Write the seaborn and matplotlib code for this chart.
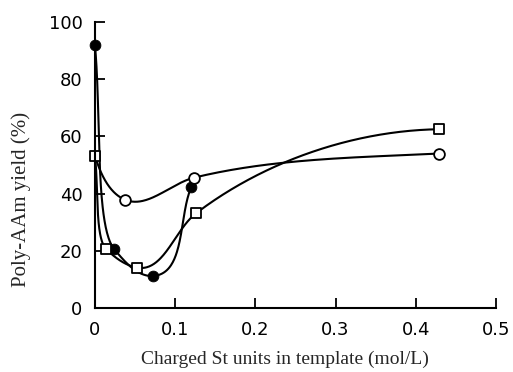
import numpy as np
import pandas as pd
import seaborn as sns
import matplotlib.pyplot as plt

sns.set_style('ticks')
plt.rcParams['font.family'] = ['DejaVu Sans']

# values
filled_x = [0.0, 0.024, 0.0725, 0.120]
filled_y = [92.0, 20.6, 11.2, 42.2]

open_x = [0.0, 0.038, 0.124, 0.429]
open_y = [53.2, 37.8, 45.6, 54.0]
open_marker_x = [0.038, 0.124, 0.429]
open_marker_y = [37.8, 45.6, 54.0]

square_x = [0.0, 0.014, 0.053, 0.126, 0.429]
square_y = [53.2, 20.6, 14.1, 33.1, 62.5]

xticks = [0, 0.1, 0.2, 0.3, 0.4, 0.5]
xticklabels = ['0', '0.1', '0.2', '0.3', '0.4', '0.5']
yticks = [0, 20, 40, 60, 80, 100]


def Smooth(xs, ys, start_down=0.0, end_flat=0.0, power=0.5, n=80):
    # hand-drawn style curve: hermite pieces through the points (screen units)
    sx, sy = 796.0, 2.86
    pts = np.column_stack([np.array(xs) * sx, np.array(ys) * sy])
    chords = np.diff(pts, axis=0)
    lens = np.linalg.norm(chords, axis=1)
    units = chords / lens[:, None]
    v = units[0] + start_down * np.array([0.0, -1.0])
    tang = [v / np.linalg.norm(v)]
    for i in range(1, len(pts) - 1):
        v = units[i - 1] * lens[i] ** power + units[i] * lens[i - 1] ** power
        tang.append(v / np.linalg.norm(v))
    v = units[-1] + end_flat * np.array([1.0, 0.0])
    tang.append(v / np.linalg.norm(v))
    s = np.linspace(0, 1, n)[:, None]
    h00 = 2 * s**3 - 3 * s**2 + 1
    h10 = s**3 - 2 * s**2 + s
    h01 = -2 * s**3 + 3 * s**2
    h11 = s**3 - s**2
    out = []
    for i in range(len(pts) - 1):
        dx = chords[i, 0]
        m0 = tang[i] * lens[i]
        m1 = tang[i + 1] * lens[i]
        if m0[0] > 3 * dx:
            m0 = m0 * 3 * dx / m0[0]
        if m1[0] > 3 * dx:
            m1 = m1 * 3 * dx / m1[0]
        out.append(h00 * pts[i] + h10 * m0 + h01 * pts[i + 1] + h11 * m1)
    out = np.vstack(out)
    return pd.DataFrame({'x': out[:, 0] / sx, 'y': out[:, 1] / sy})


fig = plt.figure(figsize=(5.13, 3.72), dpi=100)
ax = fig.add_axes([0.185, 0.172, 0.782, 0.769])

curves = [
    Smooth(filled_x, filled_y),
    Smooth(open_x, open_y, start_down=1.0, end_flat=1.0),
    Smooth(square_x, square_y, end_flat=20.0, power=1.0),
]
for curve in curves:
    sns.lineplot(data=curve, x='x', y='y', sort=False, estimator=None,
                 color='black', linewidth=1.5, ax=ax)

sns.scatterplot(x=filled_x, y=filled_y, marker='o', s=60, color='black',
                edgecolor='black', zorder=5, clip_on=False, ax=ax)
sns.scatterplot(x=open_marker_x, y=open_marker_y, marker='o', s=60, color='white',
                edgecolor='black', linewidth=1.3, zorder=5, clip_on=False, ax=ax)
sns.scatterplot(x=square_x, y=square_y, marker='s', s=50, color='white',
                edgecolor='black', linewidth=1.3, zorder=5, clip_on=False, ax=ax)

ax.set_xlim(0, 0.5)
ax.set_ylim(0, 100)
ax.set_xticks(xticks)
ax.set_xticklabels(xticklabels)
ax.set_yticks(yticks)
ax.tick_params(direction='in', length=7, width=1.3, labelsize=13, pad=9,
               colors='black')
for side in ['left', 'bottom']:
    ax.spines[side].set_linewidth(1.5)
    ax.spines[side].set_color('black')
sns.despine(ax=ax)
ax.spines['left'].set_zorder(6)

ax.set_xlabel('Charged St units in template (mol/L)', family='Liberation Serif',
              fontsize=14)
ax.xaxis.set_label_coords(0.474, -0.15)
ax.set_ylabel('Poly-AAm yield (%)', family='Liberation Serif', fontsize=15)
ax.yaxis.set_label_coords(-0.16, 0.38)

fig.savefig('out.png', dpi=100)
